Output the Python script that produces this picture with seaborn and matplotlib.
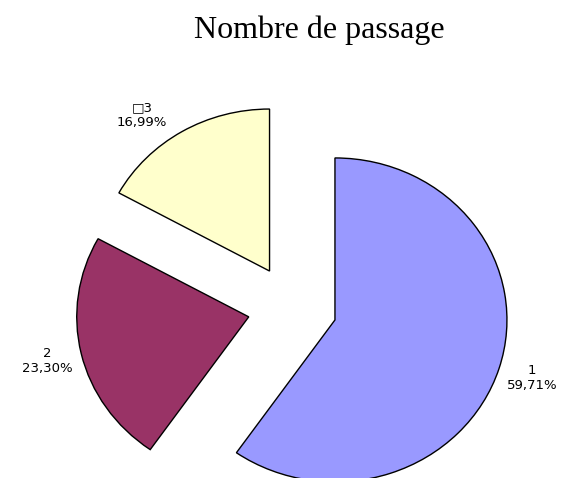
import matplotlib
matplotlib.use("Agg")
import matplotlib.pyplot as plt
import seaborn as sns

# data
categories = ["1", "2", "\u25a13"]
shares = [59.71, 23.30, 16.99]
colors = ["#9999FF", "#993366", "#FFFFCC"]

sns.set_theme(style="white")
plt.rcParams["font.family"] = ["DejaVu Sans"]

fig = plt.figure(figsize=(5.71, 4.78), dpi=100)
ax = fig.add_axes([0, 0, 1, 1])

labels = [f"{c}\n{v:.2f}%".replace(".", ",") for c, v in zip(categories, shares)]

wedges, texts = ax.pie(
    shares,
    labels=labels,
    colors=colors,
    startangle=90,
    counterclock=False,
    explode=[0.26] * len(shares),
    labeldistance=1.2,
    wedgeprops=dict(edgecolor="black", linewidth=1),
    textprops=dict(fontsize=9.5, color="black"),
)
for t in texts:
    t.set_horizontalalignment("center")
    t.set_verticalalignment("center")
    t.set_multialignment("center")

# Excel put the small slice's label a little further left than the bisector
x3, y3 = texts[2].get_position()
texts[2].set_position((x3 - 0.13, y3 - 0.07))

# the original pie is a bit wider than tall (Excel stretch):
# ~172 px per unit horizontally, ~162 px vertically, centre near (292, 307)
rx, ry = 172.0, 162.0
cx, cy = 292.3, 307.3
ax.set_xlim(-cx / rx, (571 - cx) / rx)
ax.set_ylim(-(478 - cy) / ry, cy / ry)
ax.set_aspect("auto")
ax.axis("off")

fig.text(319 / 571, 1 - 38 / 478, "Nombre de passage", ha="center", va="baseline",
         fontsize=23, color="black", family=["Liberation Serif", "DejaVu Serif"])

fig.savefig("out.png", dpi=100, facecolor="white")
